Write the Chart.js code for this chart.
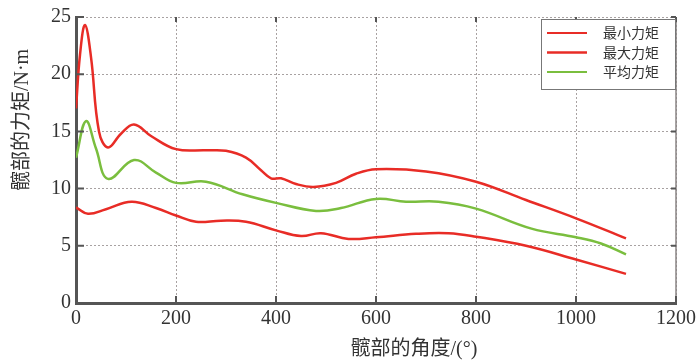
<!DOCTYPE html>
<html>
<head>
<meta charset="utf-8">
<script src="https://cdn.jsdelivr.net/npm/chart.js@4/dist/chart.umd.min.js"></script>
<style>
  html, body { margin: 0; padding: 0; background: #fff; }
  #wrap { width: 700px; height: 364px; }
</style>
</head>
<body>
<div id="wrap"><canvas id="chart"></canvas></div>
<script>
// 髋部力矩随角度变化
const seriesNames = ["最小力矩", "最大力矩", "平均力矩"];

const minAngle  = [0, 24, 60, 111, 160, 200, 240, 290, 340, 400, 450, 490, 545, 600, 680, 745, 800, 900, 1000, 1100];
const minTorque = [8.35, 7.8, 8.2, 8.85, 8.3, 7.65, 7.1, 7.2, 7.1, 6.35, 5.85, 6.1, 5.6, 5.75, 6.05, 6.1, 5.8, 5.0, 3.8, 2.55];

const maxAngle  = [0, 8, 18, 30, 46, 64, 90, 116, 150, 200, 260, 300, 340, 370, 390, 410, 440, 475, 520, 560, 600, 700, 800, 900, 1000, 1100];
const maxTorque = [17.0, 21.7, 24.3, 21.5, 15.0, 13.6, 14.8, 15.6, 14.6, 13.45, 13.35, 13.3, 12.7, 11.6, 10.9, 10.9, 10.4, 10.15, 10.5, 11.3, 11.7, 11.5, 10.6, 9.0, 7.4, 5.65];

const avgAngle  = [0, 20, 40, 64, 116, 160, 200, 260, 333, 400, 480, 530, 600, 660, 725, 800, 911, 1000, 1050, 1100];
const avgTorque = [12.7, 15.9, 13.5, 10.85, 12.5, 11.4, 10.5, 10.6, 9.5, 8.75, 8.05, 8.3, 9.1, 8.85, 8.85, 8.25, 6.5, 5.75, 5.2, 4.25];

const xTitle = "髋部的角度/(°)";
const yTitle = "髋部的力矩/N·m";

const RED = "rgb(232,44,38)";
const GREEN = "rgb(122,190,62)";
const serif = '"Liberation Serif", "Noto Sans CJK SC", serif';

const toPoints = (xs, ys) => xs.map((x, i) => ({ x: x, y: ys[i] }));

const framePlugin = {
  id: "frame",
  afterDraw(chart) {
    const ctx = chart.ctx;
    const a = chart.chartArea;
    const xs = chart.scales.x, ys = chart.scales.y;
    ctx.save();

    // 右边框
    ctx.strokeStyle = "#8a8585";
    ctx.lineWidth = 1.5;
    ctx.beginPath();
    ctx.moveTo(a.right, a.top);
    ctx.lineTo(a.right, a.bottom);
    ctx.stroke();

    // 内侧刻度
    ctx.strokeStyle = "#555";
    ctx.lineWidth = 2;
    ctx.beginPath();
    xs.ticks.forEach(t => {
      const px = xs.getPixelForValue(t.value);
      ctx.moveTo(px, a.bottom); ctx.lineTo(px, a.bottom - 7);
      ctx.moveTo(px, a.top); ctx.lineTo(px, a.top + 5);
    });
    ys.ticks.forEach(t => {
      const py = ys.getPixelForValue(t.value);
      ctx.moveTo(a.left, py); ctx.lineTo(a.left + 8, py);
      ctx.moveTo(a.right, py); ctx.lineTo(a.right - 5, py);
    });
    ctx.stroke();

    // 图例
    const lx = 541, ly = 19, lw = a.right - lx, lh = 70;
    ctx.fillStyle = "#fff";
    ctx.fillRect(lx, ly, lw, lh);
    ctx.strokeStyle = "#777";
    ctx.lineWidth = 1;
    ctx.strokeRect(lx + 0.5, ly + 0.5, lw - 1, lh);
    const colors = [RED, RED, GREEN];
    const widths = [2, 2.5, 2];
    ctx.font = '14px "Noto Sans CJK SC", sans-serif';
    ctx.textBaseline = "middle";
    ctx.textAlign = "left";
    seriesNames.forEach((name, i) => {
      const y = 33 + i * 19.5;
      ctx.strokeStyle = colors[i];
      ctx.lineWidth = widths[i];
      ctx.beginPath();
      ctx.moveTo(547, y); ctx.lineTo(587, y);
      ctx.stroke();
      ctx.fillStyle = "#333";
      ctx.fillText(name, 603, y);
    });

    // 轴标题
    ctx.fillStyle = "#333";
    ctx.font = "20px " + serif;
    ctx.textAlign = "center";
    ctx.textBaseline = "middle";
    ctx.fillText(xTitle, 414, 350);
    ctx.translate(23, 120);
    ctx.rotate(-Math.PI / 2);
    ctx.fillText(yTitle, 0, 0);
    ctx.restore();
  }
};

new Chart(document.getElementById("chart"), {
  type: "line",
  data: {
    datasets: [
      { label: seriesNames[0], data: toPoints(minAngle, minTorque), borderColor: RED },
      { label: seriesNames[1], data: toPoints(maxAngle, maxTorque), borderColor: RED },
      { label: seriesNames[2], data: toPoints(avgAngle, avgTorque), borderColor: GREEN }
    ].map(d => Object.assign(d, {
      borderWidth: 2.5,
      pointRadius: 0,
      fill: false,
      tension: 0.4
    }))
  },
  options: {
    responsive: true,
    maintainAspectRatio: false,
    animation: false,
    layout: { padding: { top: 15, right: 22, left: 0, bottom: 0 } },
    plugins: {
      legend: { display: false },
      tooltip: { enabled: false }
    },
    scales: {
      x: {
        type: "linear",
        min: 0,
        max: 1200,
        afterFit: s => { s.height = 61; },
        ticks: {
          stepSize: 200,
          padding: 4,
          color: "#333",
          font: { size: 20, family: serif },
          maxRotation: 0,
          callback: v => String(v)
        },
        grid: { color: "#a8a2a2", drawTicks: false },
        border: { color: "#555", width: 3, dash: [2, 2] }
      },
      y: {
        min: 0,
        max: 25,
        afterFit: s => { s.width = 76; },
        ticks: {
          stepSize: 5,
          padding: 5,
          color: "#333",
          font: { size: 20, family: serif },
          callback: v => String(v)
        },
        grid: { color: "#a8a2a2", drawTicks: false },
        border: { color: "#555", width: 3, dash: [2, 2] }
      }
    }
  },
  plugins: [framePlugin]
});
</script>
</body>
</html>
